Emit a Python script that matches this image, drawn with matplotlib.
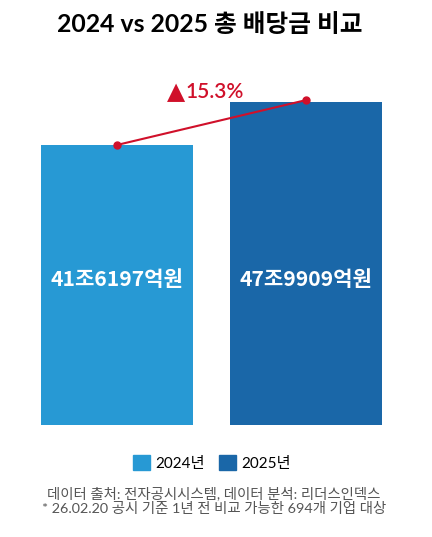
import matplotlib
matplotlib.use('Agg')
import matplotlib.pyplot as plt
from matplotlib.patches import Patch

plt.rcParams['font.family'] = ['Lato', 'Noto Sans CJK KR', 'DejaVu Sans']

years = ['2024년', '2025년']
values = [41.6197, 47.9909]  # 조 원
labels = ['41조6197억원', '47조9909억원']
colors = ['#2799d4', '#1a67a8']
red = '#d0102a'

growth = (values[1] / values[0] - 1) * 100

fig = plt.figure(figsize=(4.32, 5.37), dpi=100)
ax = fig.add_axes([41 / 432, 112 / 537, 341 / 432, 365 / 537])

x = [0, 1]
ax.bar(x, values, width=0.804, color=colors)
ax.set_xlim(-0.402, 1.402)
ax.set_ylim(0, 54.25)
ax.axis('off')

for xi, v, lab in zip(x, values, labels):
    ax.text(xi, 21.6, lab, ha='center', va='center', color='white',
            fontsize=15.2, fontweight='bold',
            family=['Noto Sans CJK KR', 'DejaVu Sans'])

ax.plot(x, [values[0], values[1] + 0.3], color=red, lw=1.5, marker='o', ms=5)
ax.text(0.36, 49.5, '▲', ha='right', va='center', color=red, fontsize=17,
        family=['DejaVu Sans'])
ax.text(0.36, 49.5, '%.1f%%' % growth, ha='left', va='center', color=red,
        fontsize=15, fontweight='semibold', family=['Lato', 'DejaVu Sans'])

fig.text(0.485, 1 - 25 / 537, '2024 vs 2025 총 배당금 비교', ha='center', va='center',
         fontsize=17.8, fontweight='bold')

handles = [Patch(color=c) for c in colors]
fig.legend(handles, years, loc='center', bbox_to_anchor=(212 / 432, 1 - 463 / 537),
           ncol=2, frameon=False, fontsize=11, handlelength=1.1, handleheight=1.1,
           handletextpad=0.4, columnspacing=0.9)

fig.text(214 / 432, 1 - 493 / 537, '데이터 출처: 전자공시시스템, 데이터 분석: 리더스인덱스',
         ha='center', va='center', fontsize=10.4, color='#555555')
fig.text(214 / 432, 1 - 509 / 537, '* 26.02.20 공시 기준 1년 전 비교 가능한 694개 기업 대상',
         ha='center', va='center', fontsize=10.4, color='#555555')

fig.savefig('out.png', dpi=100)
